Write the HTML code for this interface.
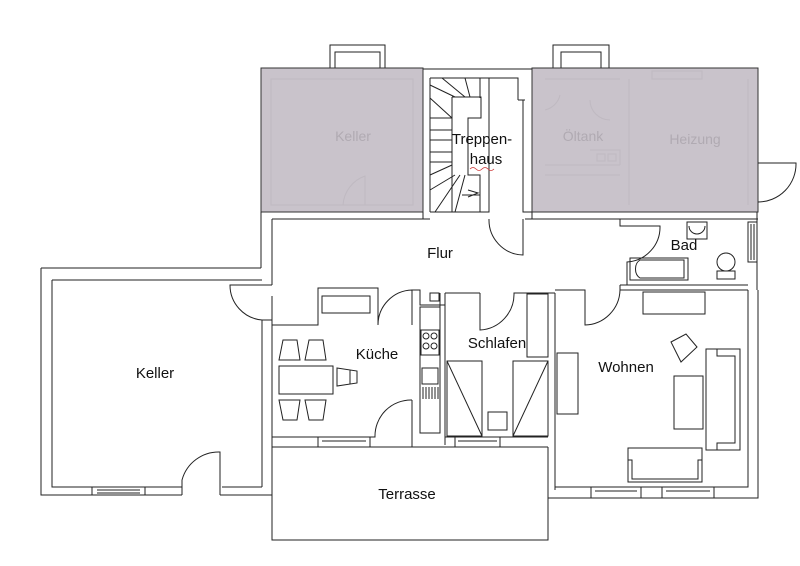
<!DOCTYPE html>
<html><head><meta charset="utf-8"><style>
html,body{margin:0;padding:0;background:#fff;}
svg{display:block}
text{font-family:"Liberation Sans",sans-serif;}
</style></head><body>
<svg width="800" height="566" viewBox="0 0 800 566" xmlns="http://www.w3.org/2000/svg">
<g fill="none" stroke="#222" stroke-width="1">
<rect x="330" y="45" width="55" height="23"/><rect x="335" y="52" width="45" height="16"/>
<rect x="553" y="45" width="56" height="23"/><rect x="561" y="52" width="40" height="16"/>
<rect x="261" y="68" width="162" height="144" fill="#c9c3cb" stroke="#333"/>
<rect x="532" y="68" width="226" height="144" fill="#c9c3cb" stroke="#333"/>
</g>
<g fill="none" stroke="#bfb9c1" stroke-width="1">
<rect x="271" y="79" width="142" height="126"/>
<path d="M365 205 V176 A33 33 0 0 0 343 205"/>
<path d="M545 79 H620 M629 79 V205 M545 165 H620 M545 175 H620 M590 150 H620 V165"/>
<path d="M545 110 A20 20 0 0 0 560 95"/><path d="M590 100 A20 20 0 0 0 610 120"/>
<rect x="597" y="154" width="8" height="7"/><rect x="608" y="154" width="8" height="7"/>
<rect x="652" y="71" width="50" height="8"/><path d="M748 79 V205"/>
</g>
<g fill="none" stroke="#222" stroke-width="1">
<path d="M423 69 H532 M423 212 V219 H430 M430 78 V212 M430 78 H480 V98 M489 78 V212 H430"/>
<path d="M430 78 H518 V100 M518 100 H525 M523 100 V212 H532"/>
<path d="M452 97 H481 V118 H468 V175 H480 V212 M452 97 V212"/>
<path d="M430 118 H452 M430 130 H452 M430 140 H452 M430 152 H452 M430 162 H452"/>
<path d="M430 98 L452 118 M430 85 L455 97 M442 78 L465 97 M465 78 L470 97 M430 175 L452 165 M430 190 L455 175 M435 212 L460 175 M455 212 L465 175"/>
<path d="M462 195 H480 M468 190 L478 193 L468 197"/>
<path d="M261 212 V268 M272 219 V285 M272 219 H430"/>
<path d="M525 219 H758 M532 212 V219 M757 212 V290"/>
<path d="M489 219 A35 35 0 0 0 523 255 V219"/>
<path d="M758 163 H796 A38 38 0 0 1 758 202"/>
<path d="M41 268 H261 M41 268 V495 H182 M52 280 H262 M52 280 V487 H92 M145 487 H182 M52 487 H92"/>
<rect x="92" y="487" width="53" height="8"/><path d="M97 490 H140 M97 493 H140"/>
<path d="M182 495 V480 A38 38 0 0 1 220 452 V495 M220 495 H272 M222 487 H262"/>
<path d="M262 285 H230 A35 35 0 0 0 262 320 V487 M272 296 V525 M262 320 H272"/>
<path d="M272 285 H262"/>
<path d="M272 325 H318 V288 H378 V325 A35 35 0 0 1 412 290 V325 M412 290 H420 V300"/>
<rect x="322" y="296" width="48" height="17"/>
<path d="M412 400 V440 M412 400 A36 36 0 0 0 375 437 H370 M318 437 H272 M272 447 H548"/>
<rect x="318" y="437" width="52" height="10"/><path d="M322 441 H366"/>
<rect x="279" y="366" width="54" height="28"/>
<path d="M283 340 H297 L300 360 H279 Z M309 340 H323 L326 360 H305 Z"/>
<path d="M283 420 H297 L300 400 H279 Z M309 420 H323 L326 400 H305 Z"/>
<path d="M337 368 L357 371 V383 L337 386 Z M350 370 V384"/>
<path d="M420 300 V305 H445 M440 293 V307"/>
<rect x="420" y="307" width="20" height="126"/><rect x="421" y="330" width="18" height="25"/>
<circle cx="426" cy="336" r="3"/><circle cx="434" cy="336" r="3"/><circle cx="426" cy="346" r="3"/><circle cx="434" cy="346" r="3"/>
<rect x="422" y="368" width="16" height="16"/>
<path d="M423 387 V399 M426 387 V399 M429 387 V399 M432 387 V399 M435 387 V399 M438 387 V399"/>
<rect x="430" y="293" width="9" height="8"/>
<path d="M412 437 V447 M445 293 V445"/>
<path d="M445 293 H480 M480 293 V330 A36 36 0 0 0 514 293 H555 M555 293 V490"/>
<rect x="527" y="294" width="21" height="63"/>
<rect x="447" y="361" width="35" height="75"/><path d="M447 361 L482 436"/>
<rect x="513" y="361" width="35" height="75"/><path d="M548 361 L513 436"/>
<rect x="488" y="412" width="19" height="18"/>
<path d="M445 437 H455 M500 437 H548"/><rect x="455" y="437" width="45" height="10"/><path d="M458 441 H497"/>
<path d="M272 447 V540 H548 V447"/>
<path d="M555 290 H585 V325 A36 36 0 0 0 620 290 H748 M748 290 V487 H555 M758 290 V498 H548 M555 487"/>
<rect x="643" y="292" width="62" height="22"/>
<rect x="557" y="353" width="21" height="61"/>
<rect x="674" y="376" width="29" height="53"/>
<path d="M706 349 H740 V450 H706 Z M717 349 V356 H735 V443 H717 V450"/>
<path d="M628 448 H702 V482 H628 Z M628 460 H632 V479 H698 V460 H702"/>
<path d="M671 342 L686 334 L697 347 L681 362 Z"/>
<rect x="591" y="487" width="50" height="11"/><rect x="662" y="487" width="52" height="11"/>
<path d="M595 491 H637 M666 491 H710"/>
<path d="M620 219 V226 H627 M627 226 H660 A35 35 0 0 1 627 262 V285 M620 285 H748 M620 290 V285"/>
<rect x="630" y="258" width="58" height="22"/><path d="M640 260 A8 10 0 0 0 640 278 H684 V260 Z"/>
<rect x="687" y="222" width="20" height="17"/><path d="M689 226 A8 8 0 0 0 705 226"/>
<circle cx="726" cy="262" r="9"/><rect x="717" y="271" width="18" height="8"/>
<rect x="748" y="222" width="9" height="40"/><path d="M751 224 V260 M754 224 V260"/>
</g>
<g text-anchor="middle" font-size="15" fill="#111">
<text x="353" y="141" fill="#b0aab2" font-size="14">Keller</text>
<text x="482" y="144">Treppen-</text>
<text x="486" y="164">haus</text>
<path d="M470 169 q3 -3 6 0 t6 0 t6 0 t6 0" stroke="#c33" fill="none" stroke-width="0.8"/>
<text x="583" y="141" fill="#b0aab2" font-size="14">Öltank</text>
<text x="695" y="144" fill="#b0aab2" font-size="14">Heizung</text>
<text x="440" y="258">Flur</text>
<text x="684" y="250">Bad</text>
<text x="155" y="378">Keller</text>
<text x="377" y="359">Küche</text>
<text x="497" y="348">Schlafen</text>
<text x="626" y="372">Wohnen</text>
<text x="407" y="499">Terrasse</text>
</g>
</svg>
</body></html>
